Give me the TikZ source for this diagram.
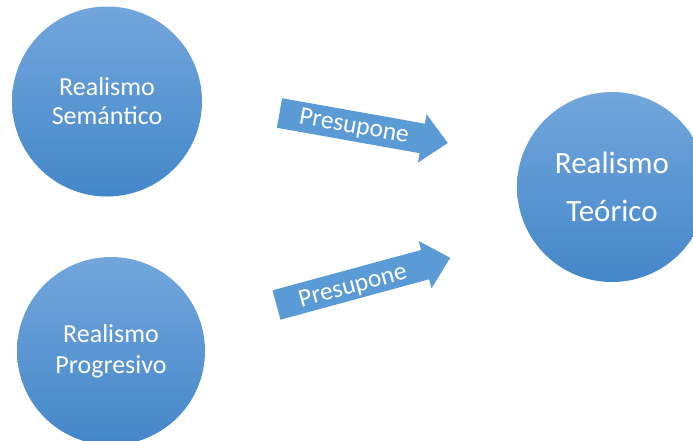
\documentclass[tikz,border=0pt]{standalone}
\usepackage{fontspec}
\setmainfont{Carlito}
\definecolor{circtop}{RGB}{114,166,220}
\definecolor{circbot}{RGB}{68,135,201}
\definecolor{arrowblue}{RGB}{91,155,213}
\tikzset{
  bubble/.style={circle, minimum size=#1, inner sep=0pt, top color=circtop, bottom color=circbot, draw=none, text=white, align=center},
  blockarrow/.style={fill=arrowblue, draw=none},
  arrowlabel/.style={text=white, font=\fontsize{25.5}{25.5}\selectfont, inner sep=0pt}
}
\begin{document}
\begin{tikzpicture}[x=1pt,y=1pt]
\useasboundingbox (0,0) rectangle (693,-440);
\begin{scope}
\clip (0,0) rectangle (693,-440);
\node[bubble=190, font=\fontsize{26}{29}\selectfont] (sem) at (107,-101.5) {Realismo\\Semántico};
\node[bubble=188, font=\fontsize{26}{31}\selectfont] (prog) at (111,-351) {Realismo\\Progresivo};
\node[bubble=190, font=\fontsize{31}{48}\selectfont] (teo) at (612,-187) {Realismo\\Teórico};
\begin{scope}[shift={(279.5,-113)}, rotate=-10.1]
  \fill[blockarrow] (0,-15) -- (145,-15) -- (145,-24.5) -- (171,0) -- (145,24.5) -- (145,15) -- (0,15) -- cycle;
\end{scope}
\begin{scope}[shift={(276.5,-305)}, rotate=15.2]
  \fill[blockarrow] (0,-15.2) -- (154,-15.2) -- (154,-24.5) -- (180,0) -- (154,24.5) -- (154,15.2) -- (0,15.2) -- cycle;
\end{scope}
\node[arrowlabel, rotate=-10.1] (lab1) at (354,-127) {Presupone};
\node[arrowlabel, rotate=15.2] (lab2) at (353,-287) {Presupone};
\end{scope}
\end{tikzpicture}
\end{document}
